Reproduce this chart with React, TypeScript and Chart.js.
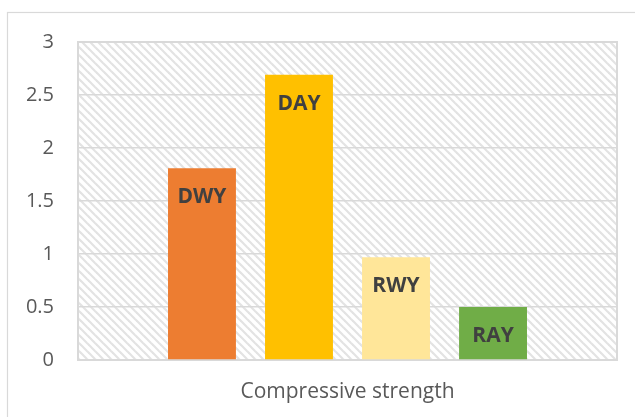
import React, { useEffect, useRef } from "react";
import { Chart, registerables } from "chart.js";

Chart.register(...registerables);

const categories = ["Compressive strength"];
const seriesNames = ["DWY", "DAY", "RWY", "RAY"];
const seriesValues = [[1.81], [2.69], [0.97], [0.5]];
const seriesColors = ["#ED7D31", "#FFC000", "#FFE699", "#70AD47"];
const yTicks = [0, 0.5, 1, 1.5, 2, 2.5, 3];

const FONT = "'Open Sans', 'Liberation Sans', sans-serif";

function makePattern(ctx: CanvasRenderingContext2D) {
  const c = document.createElement("canvas");
  c.width = 8;
  c.height = 8;
  const p = c.getContext("2d")!;
  p.fillStyle = "#ffffff";
  p.fillRect(0, 0, 8, 8);
  p.strokeStyle = "#e3e3e3";
  p.lineWidth = 2.2;
  for (let k = -8; k <= 8; k += 8) {
    p.beginPath();
    p.moveTo(k - 2, -2);
    p.lineTo(k + 10, 10);
    p.stroke();
  }
  return ctx.createPattern(c, "repeat");
}

const decorPlugin = {
  id: "decor",
  beforeDraw(chart: any) {
    const { ctx, chartArea } = chart;
    ctx.save();
    ctx.fillStyle = "#ffffff";
    ctx.fillRect(0, 0, chart.width, chart.height);
    ctx.strokeStyle = "#d9d9d9";
    ctx.lineWidth = 1.2;
    ctx.strokeRect(7.5, 12.5, 700, 500);
    const pat = makePattern(ctx);
    if (pat) {
      ctx.fillStyle = pat;
      ctx.fillRect(chartArea.left, chartArea.top, chartArea.right - chartArea.left, chartArea.bottom - chartArea.top);
    }
    ctx.restore();
  },
  beforeDatasetsDraw(chart: any) {
    const { ctx, chartArea } = chart;
    ctx.save();
    ctx.strokeStyle = "#d9d9d9";
    ctx.lineWidth = 2;
    ctx.strokeRect(chartArea.left, chartArea.top, chartArea.right - chartArea.left, chartArea.bottom - chartArea.top);
    ctx.restore();
  },
  afterDatasetsDraw(chart: any) {
    const { ctx } = chart;
    ctx.save();
    ctx.fillStyle = "#404040";
    ctx.font = `bold 21px ${FONT}`;
    ctx.textAlign = "center";
    ctx.textBaseline = "middle";
    chart.data.datasets.forEach((ds: any, i: number) => {
      const meta = chart.getDatasetMeta(i);
      meta.data.forEach((bar: any) => {
        ctx.fillText(ds.label, bar.x, bar.y + 29);
      });
    });
    ctx.restore();
  },
};

export default function App() {
  const ref = useRef<HTMLCanvasElement>(null);
  useEffect(() => {
    if (!ref.current) return;
    const chart = new Chart(ref.current, {
      type: "bar",
      data: {
        labels: categories,
        datasets: seriesNames.map((name, i) => ({
          label: name,
          data: seriesValues[i],
          backgroundColor: seriesColors[i],
          borderWidth: 0,
          categoryPercentage: 0.72,
          barPercentage: 0.7,
        })),
      },
      options: {
        animation: false,
        responsive: true,
        maintainAspectRatio: false,
        layout: { padding: { top: 42, right: 18, left: 0, bottom: 0 } },
        plugins: { legend: { display: false }, tooltip: { enabled: false } },
        scales: {
          x: {
            grid: { display: false, drawTicks: false },
            border: { display: false },
            ticks: { color: "#595959", font: { family: FONT, size: 21 }, padding: 19 },
            afterFit: (s: any) => {
              s.height = 57;
            },
          },
          y: {
            min: 0,
            max: 3,
            afterBuildTicks: (s: any) => {
              s.ticks = yTicks.map((v) => ({ value: v }));
            },
            grid: { color: "#d9d9d9", lineWidth: 1.5, drawTicks: false },
            border: { display: false },
            ticks: {
              color: "#595959",
              font: { family: FONT, size: 20 },
              padding: 24,
              callback: (v: any) => String(v),
            },
            afterFit: (s: any) => {
              s.width = 78;
            },
          },
        },
      },
      plugins: [decorPlugin],
    });
    return () => chart.destroy();
  }, []);
  return (
    <div style={{ position: "absolute", left: 0, top: 0, width: 635, height: 417 }}>
      <canvas ref={ref} />
    </div>
  );
}
